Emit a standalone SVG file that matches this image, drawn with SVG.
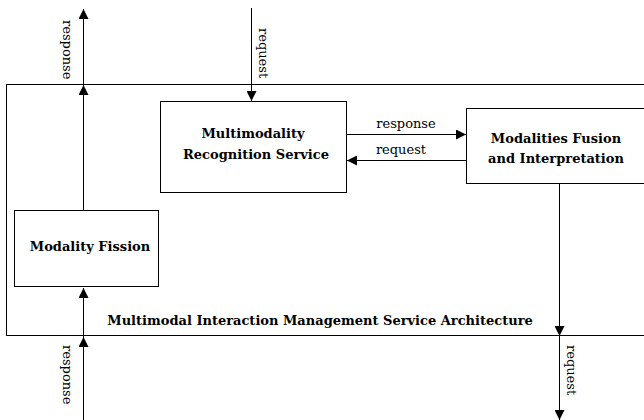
<svg xmlns="http://www.w3.org/2000/svg" width="644" height="420" viewBox="0 0 644 420">
<defs>
<marker id="ah" viewBox="0 0 10 10" refX="10" refY="5" markerWidth="10" markerHeight="10" markerUnits="userSpaceOnUse" orient="auto">
<path d="M0,0 L10,5 L0,10 Z" fill="#000"/>
</marker>
</defs>
<style>
.box{fill:#fff;stroke:#000;stroke-width:1}
.ln{stroke:#000;stroke-width:1;fill:none;marker-end:url(#ah)}
.bt{font-family:"DejaVu Serif","Liberation Serif",serif;font-weight:bold;font-size:13px;text-anchor:middle;fill:#000}
.lt{font-family:"DejaVu Serif","Liberation Serif",serif;font-size:13px;fill:#000}
</style>
<rect width="644" height="420" fill="#fff"/>
<g id="architecture">
<rect class="box" x="6.5" y="84.5" width="650" height="251"/>
<text class="bt" x="320" y="325">Multimodal Interaction Management Service Architecture</text>
</g>
<g id="recognition">
<rect class="box" x="160.5" y="101.5" width="186" height="91"/>
<text class="bt" x="253" y="138">Multimodality</text>
<text class="bt" x="256" y="159">Recognition Service</text>
</g>
<g id="fusion">
<rect class="box" x="466.5" y="108.5" width="190" height="75"/>
<text class="bt" x="556" y="143">Modalities Fusion</text>
<text class="bt" x="556" y="163">and Interpretation</text>
</g>
<g id="fission">
<rect class="box" x="14.5" y="210.5" width="144" height="76"/>
<text class="bt" x="90" y="251">Modality Fission</text>
</g>
<g id="connectors">
<line class="ln" x1="83.5" y1="210" x2="83.5" y2="85"/>
<line class="ln" x1="83.5" y1="85" x2="83.5" y2="9"/>
<line class="ln" x1="83.5" y1="420" x2="83.5" y2="337"/>
<line class="ln" x1="83.5" y1="337" x2="83.5" y2="288"/>
<line class="ln" x1="251.5" y1="8" x2="251.5" y2="101"/>
<line class="ln" x1="346" y1="134.5" x2="466" y2="134.5"/>
<line class="ln" x1="466" y1="160.5" x2="347" y2="160.5"/>
<line class="ln" x1="559.5" y1="184" x2="559.5" y2="336"/>
<line class="ln" x1="559.5" y1="336" x2="559.5" y2="420"/>
<text class="lt" x="406" y="128" text-anchor="middle">response</text>
<text class="lt" x="401" y="154" text-anchor="middle">request</text>
<text class="lt" transform="translate(63,20) rotate(90)">response</text>
<text class="lt" transform="translate(259,28) rotate(90)">request</text>
<text class="lt" transform="translate(63,345) rotate(90)">response</text>
<text class="lt" transform="translate(567,345) rotate(90)">request</text>
</g>
</svg>
